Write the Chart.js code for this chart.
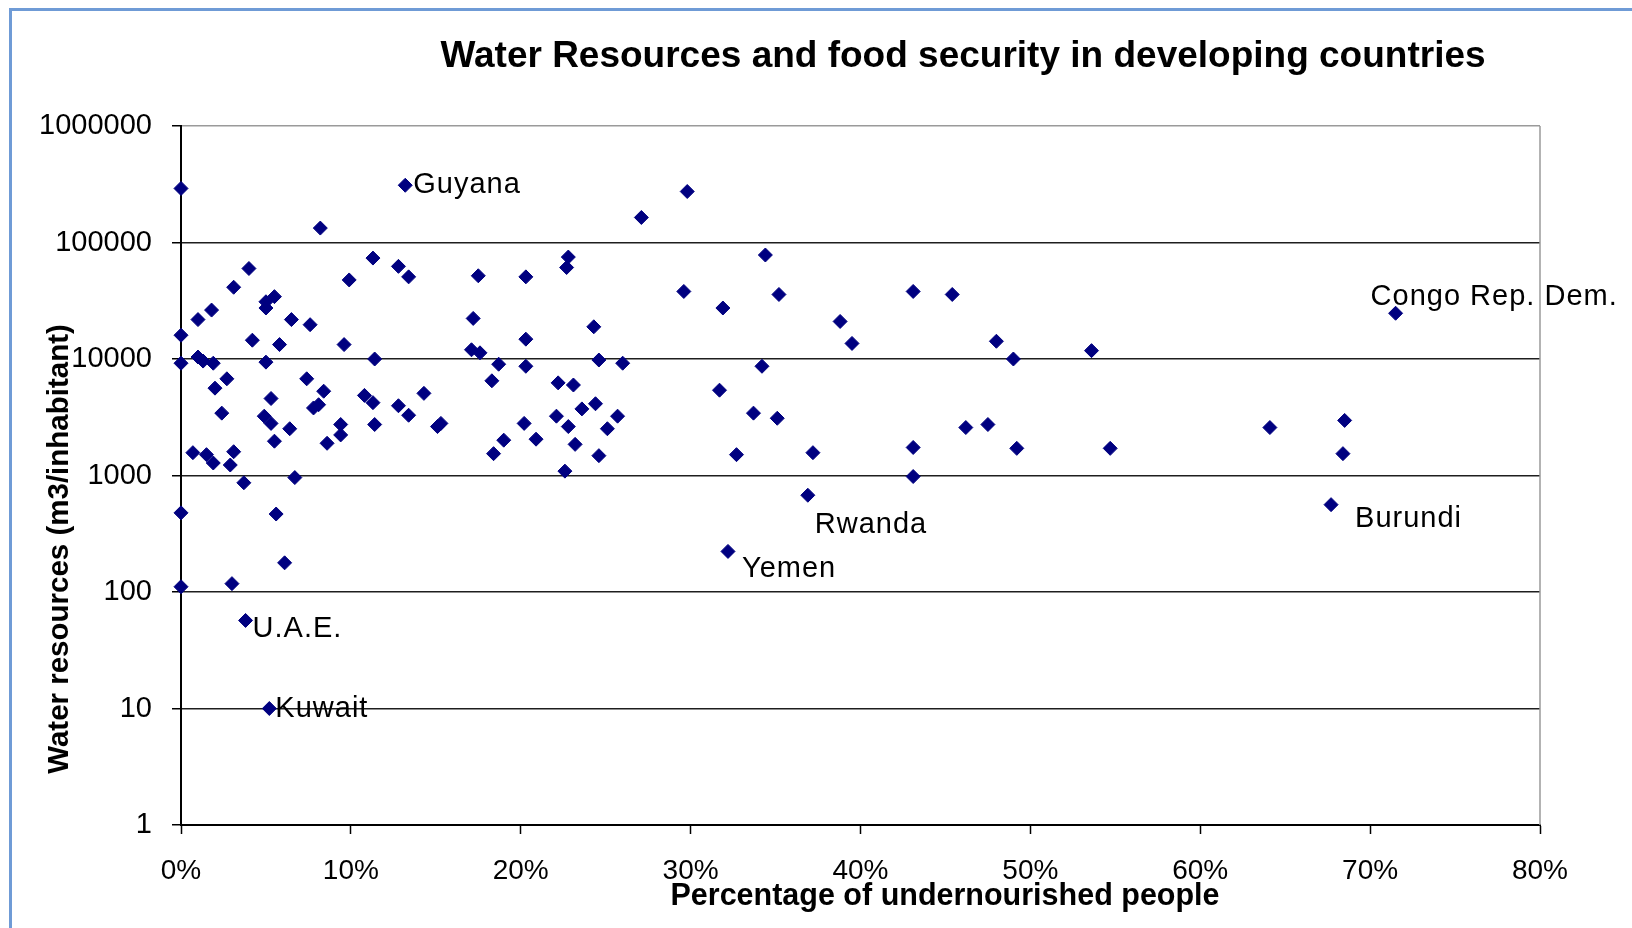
<!DOCTYPE html>
<html>
<head>
<meta charset="utf-8">
<script src="https://cdn.jsdelivr.net/npm/chart.js@4.4.1/dist/chart.umd.min.js"></script>
<style>
  html, body { margin: 0; padding: 0; background: #ffffff; }
  #wrap { position: relative; width: 1632px; height: 928px; overflow: hidden; background: #ffffff; }
  #frame { position: absolute; left: 9px; top: 8px; width: 1700px; height: 1000px;
           border-left: 3px solid #6f9bd6; border-top: 3px solid #6f9bd6; }
  #c { position: absolute; left: 0; top: 0; }
</style>
</head>
<body>
<div id="wrap">
  <div id="frame"></div>
  <canvas id="c" width="1632" height="928"></canvas>
</div>
<script>
// Share of undernourished people (%) per country
const undernourishedPct = [
  0, 0, 0, 0, 0,
  0.7, 1.0, 1.0, 1.3, 1.5, 1.8, 1.9, 2.0, 1.9, 2.4, 2.7, 2.9, 3.1, 3.1, 3.0,
  3.7, 4.0, 4.2, 5.0, 5.0, 5.5, 5.0, 4.9, 5.3, 5.3, 5.5, 5.6, 5.8, 6.1,
  6.5, 6.4, 6.7, 7.4, 7.6, 7.8, 8.1, 8.2, 8.4, 8.6, 9.4, 9.4, 9.6, 9.9,
  11.3, 11.4, 10.8, 11.3, 11.4, 12.8, 13.4, 12.8, 13.4, 14.3, 15.1, 15.3,
  17.2, 17.1, 17.6, 17.5, 18.7, 18.3, 18.4, 19.0,
  20.3, 20.3, 20.3, 20.2, 20.9, 22.8, 22.7, 22.2, 23.1, 22.1, 22.8, 23.2, 22.6,
  23.6, 24.4, 24.3, 24.6, 24.6, 25.1, 25.7, 26.0, 27.1,
  29.8, 29.6, 31.9, 31.7, 32.7, 33.7, 34.4, 34.2, 35.2, 35.1, 37.2,
  38.8, 39.5, 43.1, 43.1, 43.1, 45.4, 46.2, 47.5, 48.0, 49.0, 49.2,
  53.6, 54.7, 64.1, 68.5, 68.4
];

// Renewable water resources (m3 per inhabitant) for the same countries
const waterResources = [
  291000, 16000, 9200, 478, 111,
  1570, 21800, 10400, 9600, 1510, 26300, 9200, 5620, 1280, 3430, 6760, 1230, 41300, 1600, 118,
  866, 59800, 14500, 31000, 27400, 34300, 9400, 3230, 4580, 2800, 1970, 467, 13300, 178,
  21800, 2520, 960, 6760, 19700, 3800, 4050, 133000, 5290, 1890, 2740, 2230, 13300, 47700,
  73500, 10000, 4870, 4220, 2740, 62400, 50700, 3970, 3290, 5070, 2630, 2800,
  22300, 12000, 11300, 51800, 9020, 6500, 1540, 2010,
  50700, 14800, 8660, 2800, 2050, 75000, 61000, 6240, 5980, 3230, 2630, 1850, 1090,
  3730, 4130, 18900, 9800, 1480, 2520, 3230, 9200, 164000,
  274000, 38000, 27400, 5400, 1510, 3430, 78100, 8660, 35800, 3100, 1570,
  21000, 13600, 38000, 1740, 980, 35800, 2580, 2740, 14200, 10000, 1710,
  11800, 1710, 2580, 2970, 1540
];

// Countries named on the chart
const namedCountries = ['Guyana', 'U.A.E.', 'Kuwait', 'Yemen', 'Rwanda', 'Burundi', 'Congo Rep. Dem.'];
const namedPct = [13.2, 3.8, 5.2, 32.2, 36.9, 67.7, 71.5];
const namedWater = [310000, 57, 10, 223, 677, 562, 24700];

// Axis ticks
const xTickValues = [0, 10, 20, 30, 40, 50, 60, 70, 80];
const yTickValues = [1, 10, 100, 1000, 10000, 100000, 1000000];

const chartTitle = 'Water Resources and food security in developing countries';
const xAxisTitle = 'Percentage of undernourished people';
const yAxisTitle = 'Water resources (m3/inhabitant)';

const FONT = '"Liberation Sans", Arial, Helvetica, sans-serif';
const MARKER = '#000080';

// Where each country name sits relative to its marker (px)
const nameOffsets = {
  'Guyana': [8, 0],
  'U.A.E.': [7, 9],
  'Kuwait': [6, 0],
  'Yemen': [14, 18],
  'Rwanda': [7, 30],
  'Burundi': [24, 14],
  'Congo Rep. Dem.': [-25, -16]
};

const toPoints = (xs, ys) => xs.map((x, i) => ({ x: x, y: ys[i] }));

// Country names next to their markers
const countryNames = {
  id: 'countryNames',
  afterDatasetsDraw(chart) {
    const ctx = chart.ctx;
    const meta = chart.getDatasetMeta(1);
    ctx.save();
    ctx.font = '29px ' + FONT;
    if ('letterSpacing' in ctx) ctx.letterSpacing = '1px';
    ctx.fillStyle = '#000000';
    ctx.textAlign = 'left';
    ctx.textBaseline = 'middle';
    meta.data.forEach((pt, i) => {
      const name = namedCountries[i];
      const off = nameOffsets[name] || [8, 0];
      ctx.fillText(name, pt.x + off[0], pt.y + off[1]);
    });
    ctx.restore();
  }
};

// Grey frame on the right edge of the plot area
const plotFrame = {
  id: 'plotFrame',
  beforeDatasetsDraw(chart) {
    const { ctx, chartArea: a } = chart;
    ctx.save();
    ctx.strokeStyle = '#9a9a9a';
    ctx.lineWidth = 1.5;
    ctx.beginPath();
    ctx.moveTo(a.right, a.top);
    ctx.lineTo(a.right, a.bottom);
    ctx.stroke();
    ctx.restore();
  }
};

// Chart and axis titles
const titles = {
  id: 'titles',
  afterDraw(chart) {
    const ctx = chart.ctx;
    ctx.save();
    ctx.fillStyle = '#000000';
    ctx.textAlign = 'center';
    ctx.textBaseline = 'middle';
    ctx.font = 'bold 37px ' + FONT;
    ctx.fillText(chartTitle, 963, 57);
    ctx.font = 'bold 30.5px ' + FONT;
    ctx.fillText(xAxisTitle, 945, 897);
    ctx.font = 'bold 29.5px ' + FONT;
    ctx.translate(60, 549);
    ctx.rotate(-Math.PI / 2);
    ctx.fillText(yAxisTitle, 0, 0);
    ctx.restore();
  }
};

const pointStyleCommon = {
  pointStyle: 'rectRot',
  pointRadius: 7,
  pointHoverRadius: 7,
  backgroundColor: MARKER,
  borderColor: MARKER,
  borderWidth: 1,
  clip: false
};

new Chart(document.getElementById('c'), {
  type: 'scatter',
  data: {
    datasets: [
      Object.assign({ label: 'Countries', data: toPoints(undernourishedPct, waterResources) }, pointStyleCommon),
      Object.assign({ label: 'Named countries', data: toPoints(namedPct, namedWater) }, pointStyleCommon)
    ]
  },
  options: {
    responsive: false,
    devicePixelRatio: 1,
    animation: false,
    events: [],
    layout: { padding: { left: 0, top: 126, right: 92, bottom: 0 } },
    plugins: {
      legend: { display: false },
      tooltip: { enabled: false },
      title: { display: false }
    },
    scales: {
      x: {
        type: 'linear',
        min: 0,
        max: 80,
        afterBuildTicks: s => { s.ticks = xTickValues.map(v => ({ value: v })); },
        afterFit: s => { s.height = 103; },
        ticks: {
          callback: v => v + '%',
          font: { family: FONT, size: 28 },
          color: '#000000',
          padding: 20,
          maxRotation: 0,
          autoSkip: false
        },
        grid: { drawOnChartArea: false, tickLength: 9, tickColor: '#000000', tickWidth: 1.5 },
        border: { color: '#000000', width: 2 }
      },
      y: {
        type: 'logarithmic',
        min: 1,
        max: 1000000,
        afterBuildTicks: s => { s.ticks = yTickValues.map(v => ({ value: v })); },
        afterFit: s => { s.width = 181; },
        ticks: {
          callback: v => String(v),
          font: { family: FONT, size: 29 },
          color: '#000000',
          padding: 20,
          autoSkip: false
        },
        grid: {
          color: c => (c.tick && c.tick.value === 1000000 ? '#9a9a9a' : '#1e1e1e'),
          lineWidth: 1.5,
          tickLength: 9,
          tickColor: '#000000',
          tickWidth: 1.5
        },
        border: { color: '#000000', width: 2 }
      }
    }
  },
  plugins: [plotFrame, countryNames, titles]
});
</script>
</body>
</html>
